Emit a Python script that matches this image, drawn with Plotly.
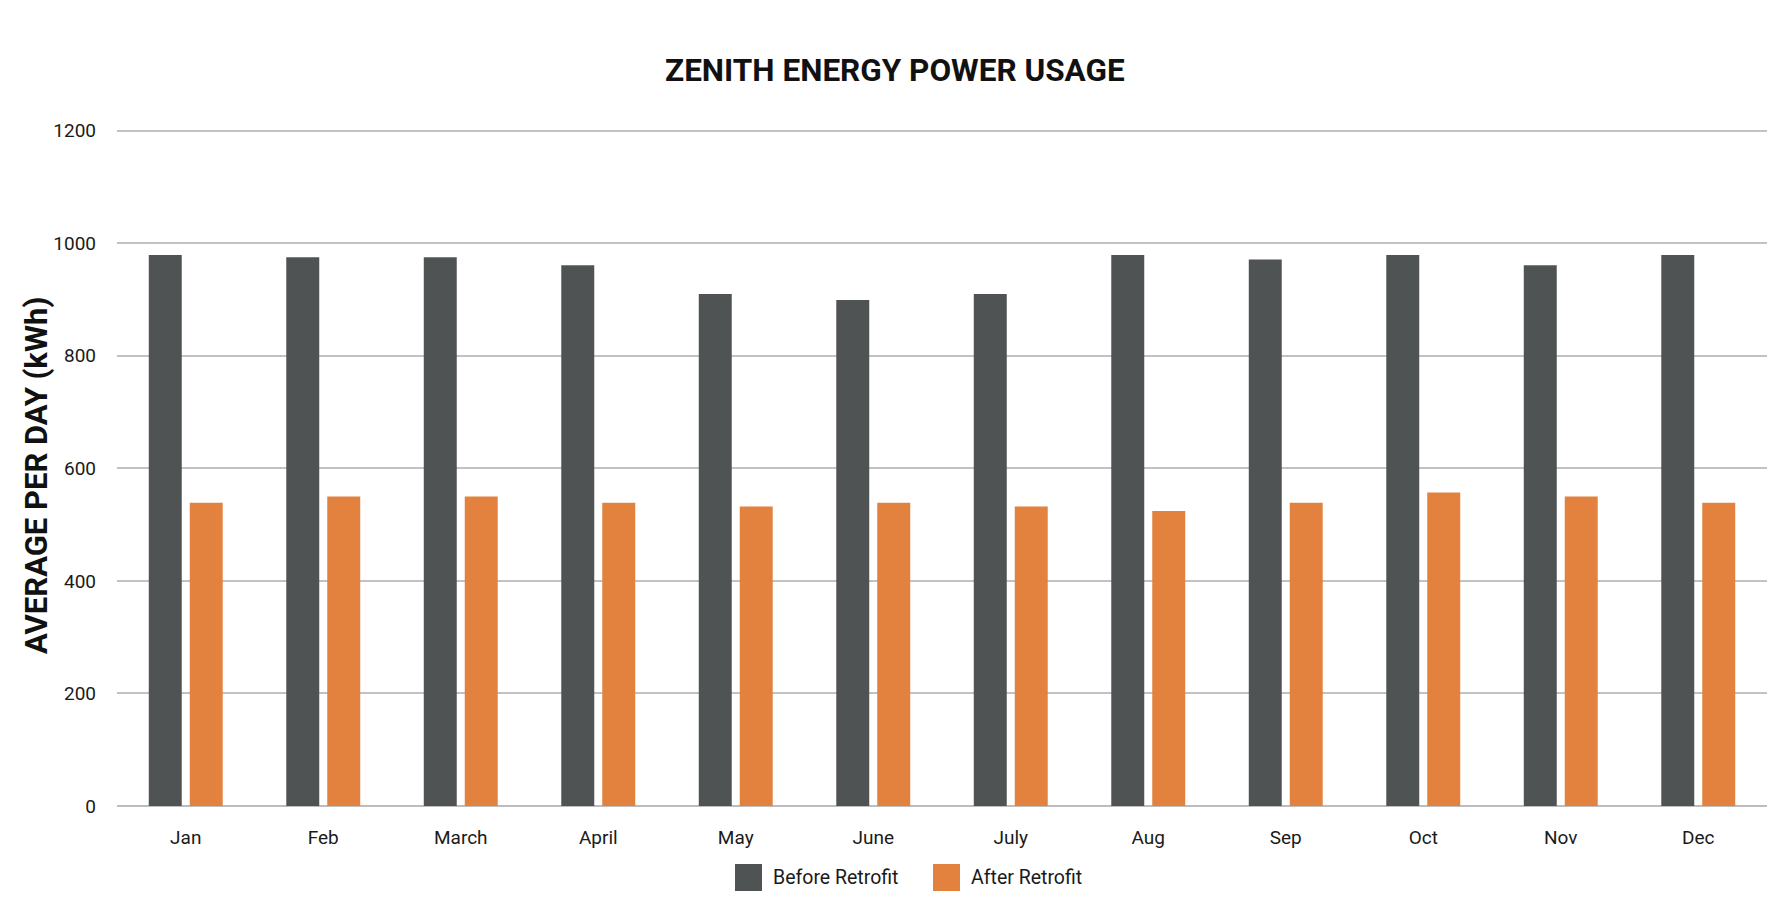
import plotly.graph_objects as go

months = ["Jan", "Feb", "March", "April", "May", "June", "July", "Aug", "Sep", "Oct", "Nov", "Dec"]
before_retrofit = [979, 975, 975, 961, 910, 899, 910, 979, 971, 979, 961, 979]
after_retrofit = [539, 550, 550, 539, 532, 539, 532, 524, 539, 557, 550, 539]
y_ticks = [0, 200, 400, 600, 800, 1000, 1200]

DARK = "#505354"
ORANGE = "#E2823E"
FONT = "Roboto"

fig = go.Figure()
fig.add_trace(go.Bar(name="Before Retrofit", x=months, y=before_retrofit,
                     marker=dict(color=DARK, line=dict(width=0)), showlegend=False))
fig.add_trace(go.Bar(name="After Retrofit", x=months, y=after_retrofit,
                     marker=dict(color=ORANGE, line=dict(width=0)), showlegend=False))

L, R, T, B = 117, 12, 129, 110
W, H = 1779, 916
pw, ph = W - L - R, H - T - B

def px_x(px):
    return (px - L) / pw

def px_y(py):
    return (H - B - py) / ph

shapes = []
annotations = []
# custom legend
legend_items = [("Before Retrofit", DARK, 735), ("After Retrofit", ORANGE, 933)]
for name, color, x0 in legend_items:
    shapes.append(dict(type="rect", xref="paper", yref="paper",
                       x0=px_x(x0), x1=px_x(x0 + 27), y0=px_y(891), y1=px_y(864),
                       fillcolor=color, line=dict(width=0)))
    annotations.append(dict(text=name, xref="paper", yref="paper",
                            x=px_x(x0 + 36), y=px_y(878), xanchor="left", yanchor="middle",
                            showarrow=False, font=dict(family=FONT, size=19.5, color="#1a1a1a")))

annotations.append(dict(text="<b>AVERAGE PER DAY (kWh)</b>", xref="paper", yref="paper",
                        x=px_x(36), y=px_y(476), xanchor="center", yanchor="middle",
                        textangle=-90, showarrow=False,
                        font=dict(family=FONT, size=31, color="#111111")))

fig.update_layout(
    width=W, height=H,
    margin=dict(l=L, r=R, t=T, b=B),
    paper_bgcolor="white", plot_bgcolor="white",
    title=dict(text="<b>ZENITH ENERGY POWER USAGE</b>", x=0.503, xanchor="center",
               y=1 - 70 / H, yanchor="middle",
               font=dict(family=FONT, size=31.5, color="#111111")),
    barmode="group", bargap=0.404, bargroupgap=0.195,
    shapes=shapes, annotations=annotations,
    font=dict(family=FONT, size=19, color="#1a1a1a"),
)
fig.update_xaxes(showline=False, showgrid=False, ticks="", ticklabelstandoff=18,
                 tickfont=dict(family=FONT, size=19, color="#1a1a1a"), fixedrange=True)
fig.update_yaxes(range=[0, 1203], tickvals=y_ticks, showgrid=True, gridcolor="#C2C2C2",
                 gridwidth=1.5, zeroline=True, zerolinecolor="#BDBDBD", zerolinewidth=2,
                 ticks="", ticklabelstandoff=20,
                 tickfont=dict(family=FONT, size=19, color="#1a1a1a"), fixedrange=True)

fig.write_html("out.html")
